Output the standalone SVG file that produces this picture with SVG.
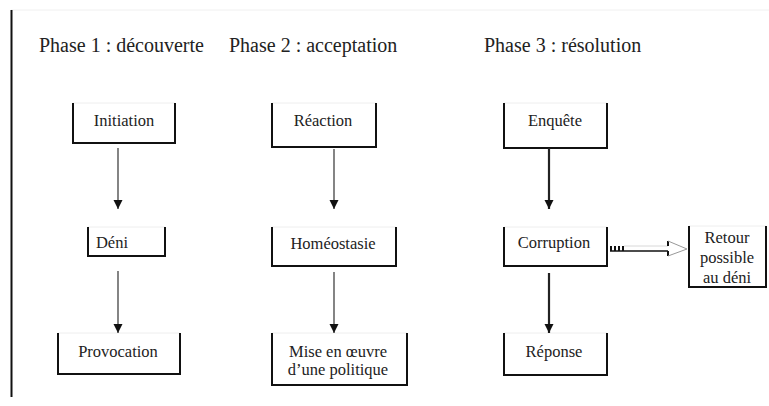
<svg xmlns="http://www.w3.org/2000/svg" width="769" height="406" viewBox="0 0 769 406">
<style>
.t{font-family:"Liberation Serif","Times New Roman",serif;font-size:20px;fill:#222;}
.n{font-family:"Liberation Serif","Times New Roman",serif;font-size:16.5px;text-anchor:middle;fill:#222;}
.side{stroke:#111;stroke-width:2;fill:none;}
.top{stroke:#eeeeee;stroke-width:1;}
.ln{stroke:#333;stroke-width:1.2;}
.lnb{stroke:#222;stroke-width:2.2;}
</style>
<defs>
<marker id="ah" viewBox="0 0 10 10" refX="10" refY="5" markerWidth="9" markerHeight="10" markerUnits="userSpaceOnUse" orient="auto">
<path d="M0,0 L10,5 L0,10 Z" fill="#111"/>
</marker>
</defs>
<rect width="769" height="406" fill="#fff"/>
<line x1="11" y1="10" x2="769" y2="10" stroke="#f0f0f0" stroke-width="1"/>
<line x1="11.5" y1="10" x2="11.5" y2="397" stroke="#111" stroke-width="2"/>
<text class="t" x="39" y="52">Phase 1 : découverte</text>
<text class="t" x="229" y="52">Phase 2 : acceptation</text>
<text class="t" x="484" y="52">Phase 3 : résolution</text>

<g id="initiation"><line class="top" x1="73" y1="103" x2="175" y2="103"/><path class="side" d="M73,103 V143 H175 V103"/><text class="n" x="124" y="126" style="font-family:'Liberation Serif',serif;font-size:16.5px">Initiation</text></g>
<g id="deni"><line class="top" x1="88" y1="227" x2="165" y2="227"/><path class="side" d="M88,227 V256 H165 V227"/><text class="n" x="112" y="248" style="font-family:'Liberation Serif',serif;font-size:16.5px">Déni</text></g>
<g id="provocation"><line class="top" x1="58" y1="333" x2="180" y2="333"/><path class="side" d="M58,333 V374 H180 V333"/><text class="n" x="118" y="357" style="font-family:'Liberation Serif',serif;font-size:16.5px">Provocation</text></g>

<g id="reaction"><line class="top" x1="272" y1="103" x2="376" y2="103"/><path class="side" d="M272,103 V147 H376 V103"/><text class="n" x="323" y="126" style="font-family:'Liberation Serif',serif;font-size:16.5px">Réaction</text></g>
<g id="homeostasie"><line class="top" x1="272" y1="227" x2="396" y2="227"/><path class="side" d="M272,227 V266 H396 V227"/><text class="n" x="333" y="249" style="font-family:'Liberation Serif',serif;font-size:16.5px">Homéostasie</text></g>
<g id="politique"><line class="top" x1="272" y1="333" x2="407" y2="333"/><path class="side" d="M272,333 V385 H407 V333"/><text class="n" x="338" y="357" style="font-family:'Liberation Serif',serif;font-size:16.5px">Mise en œuvre</text><text class="n" x="338" y="375" style="font-family:'Liberation Serif',serif;font-size:16.5px">d’une politique</text></g>

<g id="enquete"><line class="top" x1="504" y1="103" x2="607" y2="103"/><path class="side" d="M504,103 V148 H607 V103"/><text class="n" x="555" y="126" style="font-family:'Liberation Serif',serif;font-size:16.5px">Enquête</text></g>
<g id="corruption"><line class="top" x1="504" y1="227" x2="607" y2="227"/><path class="side" d="M504,227 V266 H607 V227"/><text class="n" x="554" y="248" style="font-family:'Liberation Serif',serif;font-size:16.5px">Corruption</text></g>
<g id="reponse"><line class="top" x1="504" y1="333" x2="607" y2="333"/><path class="side" d="M504,333 V375 H607 V333"/><text class="n" x="554" y="357" style="font-family:'Liberation Serif',serif;font-size:16.5px">Réponse</text></g>
<g id="retour"><line class="top" x1="689" y1="226" x2="766" y2="226"/><path class="side" d="M689,226 V287 H766 V226"/><text class="n" x="727" y="243" style="font-family:'Liberation Serif',serif;font-size:16.5px">Retour</text><text class="n" x="727" y="263" style="font-family:'Liberation Serif',serif;font-size:16.5px">possible</text><text class="n" x="727" y="283" style="font-family:'Liberation Serif',serif;font-size:16.5px">au déni</text></g>

<g id="connectors">
<line class="ln" x1="118" y1="148" x2="118" y2="209" marker-end="url(#ah)"/>
<line class="ln" x1="118" y1="271" x2="118" y2="333" marker-end="url(#ah)"/>
<line class="ln" x1="334" y1="149" x2="334" y2="209" marker-end="url(#ah)"/>
<line class="ln" x1="334" y1="272" x2="334" y2="333" marker-end="url(#ah)"/>
<line class="lnb" x1="549" y1="148" x2="549" y2="209" marker-end="url(#ah)"/>
<line class="lnb" x1="549" y1="273" x2="549" y2="333" marker-end="url(#ah)"/>
<g id="striped-arrow">
<rect x="610" y="246" width="2" height="5" fill="#111"/>
<rect x="614" y="246" width="2" height="5" fill="#111"/>
<rect x="618" y="246" width="2" height="5" fill="#111"/>
<rect x="622" y="246" width="2" height="5" fill="#111"/>
<line x1="610" y1="251" x2="668" y2="251" stroke="#111" stroke-width="1.5"/>
<line x1="624" y1="246" x2="668" y2="246" stroke="#d8d8d8" stroke-width="1"/>
<line x1="668" y1="241" x2="668" y2="246" stroke="#111" stroke-width="2"/>
<line x1="668" y1="251" x2="668" y2="256" stroke="#111" stroke-width="2"/>
<path d="M668,241 L687,249 L668,256" fill="none" stroke="#999" stroke-width="1"/>
</g>
</g>
</svg>
